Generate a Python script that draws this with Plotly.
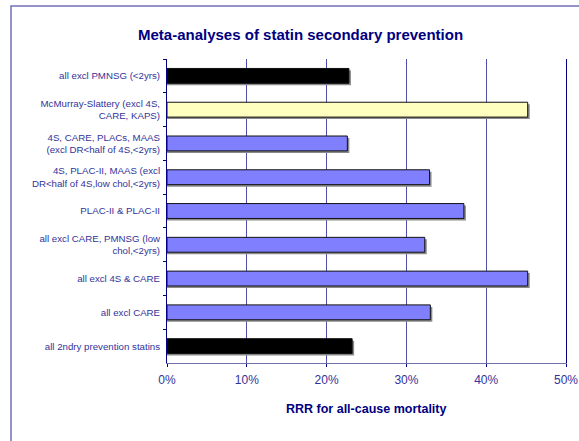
import plotly.graph_objects as go

categories = [
    "all excl PMNSG (&lt;2yrs)",
    "McMurray-Slattery (excl 4S,<br>CARE, KAPS)",
    "4S, CARE, PLACs, MAAS<br>(excl DR&lt;half of 4S,&lt;2yrs)",
    "4S, PLAC-II, MAAS (excl<br>DR&lt;half of 4S,low chol,&lt;2yrs)",
    "PLAC-II &amp; PLAC-II",
    "all excl CARE, PMNSG (low<br>chol,&lt;2yrs)",
    "all excl 4S &amp; CARE",
    "all excl CARE",
    "all 2ndry prevention statins",
]
rrr = [0.228, 0.452, 0.226, 0.329, 0.372, 0.323, 0.452, 0.330, 0.232]
bar_colors = ["#000000", "#FFFFC0", "#8080FF", "#8080FF", "#8080FF",
              "#8080FF", "#8080FF", "#8080FF", "#000000"]
x_ticks = [0, 0.1, 0.2, 0.3, 0.4, 0.5]

W, H = 579, 441
L, R, T, B = 167, 13, 59, 78
PW, PH = W - L - R, H - T - B
BW = 0.44
SHADOW_X = 0.5 * 2 / PW          # ~2 px in data units
SHADOW_Y = 2 / (PH / len(categories))

fig = go.Figure()
# drop shadow
fig.add_trace(go.Bar(
    y=categories, x=[v + SHADOW_X for v in rrr], orientation="h",
    marker=dict(color="#8a8a8a", line=dict(width=0)),
    width=BW, offset=-BW / 2 + SHADOW_Y, showlegend=False, hoverinfo="skip",
))
fig.add_trace(go.Bar(
    y=categories, x=rrr, orientation="h",
    marker=dict(color=bar_colors, line=dict(color="#111111", width=1)),
    width=BW, offset=-BW / 2, showlegend=False,
))

fig.update_layout(
    width=W, height=H,
    margin=dict(l=L, r=R, t=T, b=B, pad=0, autoexpand=False),
    paper_bgcolor="white", plot_bgcolor="white",
    barmode="overlay",
    font=dict(family="Arial, Liberation Sans, sans-serif", color="#333399"),
    xaxis=dict(range=[0, 0.5], tickvals=x_ticks, tickformat=".0%",
               automargin=False,
               showgrid=True, gridcolor="#5050A8", gridwidth=1,
               showline=True, linecolor="#7070B0", linewidth=1,
               ticks="outside", ticklen=3, tickcolor="#000080",
               ticklabelstandoff=3,
               tickfont=dict(size=12, color="#333399"),
               zeroline=False),
    yaxis=dict(autorange="reversed", showgrid=False, automargin=False,
               showline=True, linecolor="#000080", linewidth=1, mirror=True,
               ticks="outside", ticklen=3, tickcolor="#000080",
               tickson="boundaries", ticklabelstandoff=4,
               tickfont=dict(size=9.7, color="#333399")),
)

fig.add_annotation(text="<b>Meta-analyses of statin secondary prevention</b>",
                   xref="paper", yref="paper",
                   x=(300 - L) / PW, y=(H - B - 35) / PH,
                   xanchor="center", yanchor="middle", showarrow=False,
                   font=dict(size=15, color="#000080"))
fig.add_annotation(text="<b>RRR for all-cause mortality</b>",
                   xref="paper", yref="paper",
                   x=(366 - L) / PW, y=(H - B - 409) / PH,
                   xanchor="center", yanchor="middle", showarrow=False,
                   font=dict(size=12.5, color="#000080"))

# chart-area frame (left and top edges visible)
x0 = (11 - L) / PW
y1 = (H - B - 6) / PH
fig.add_shape(type="path", xref="paper", yref="paper",
              path=f"M {x0},-0.5 L {x0},{y1} L 1.3,{y1}",
              line=dict(color="#7070B8", width=1.5), layer="below")

fig.write_html("out.html",
               config={"displayModeBar": False},
               post_script="document.body.style.margin='0';"
                           "document.body.style.overflow='hidden';")
